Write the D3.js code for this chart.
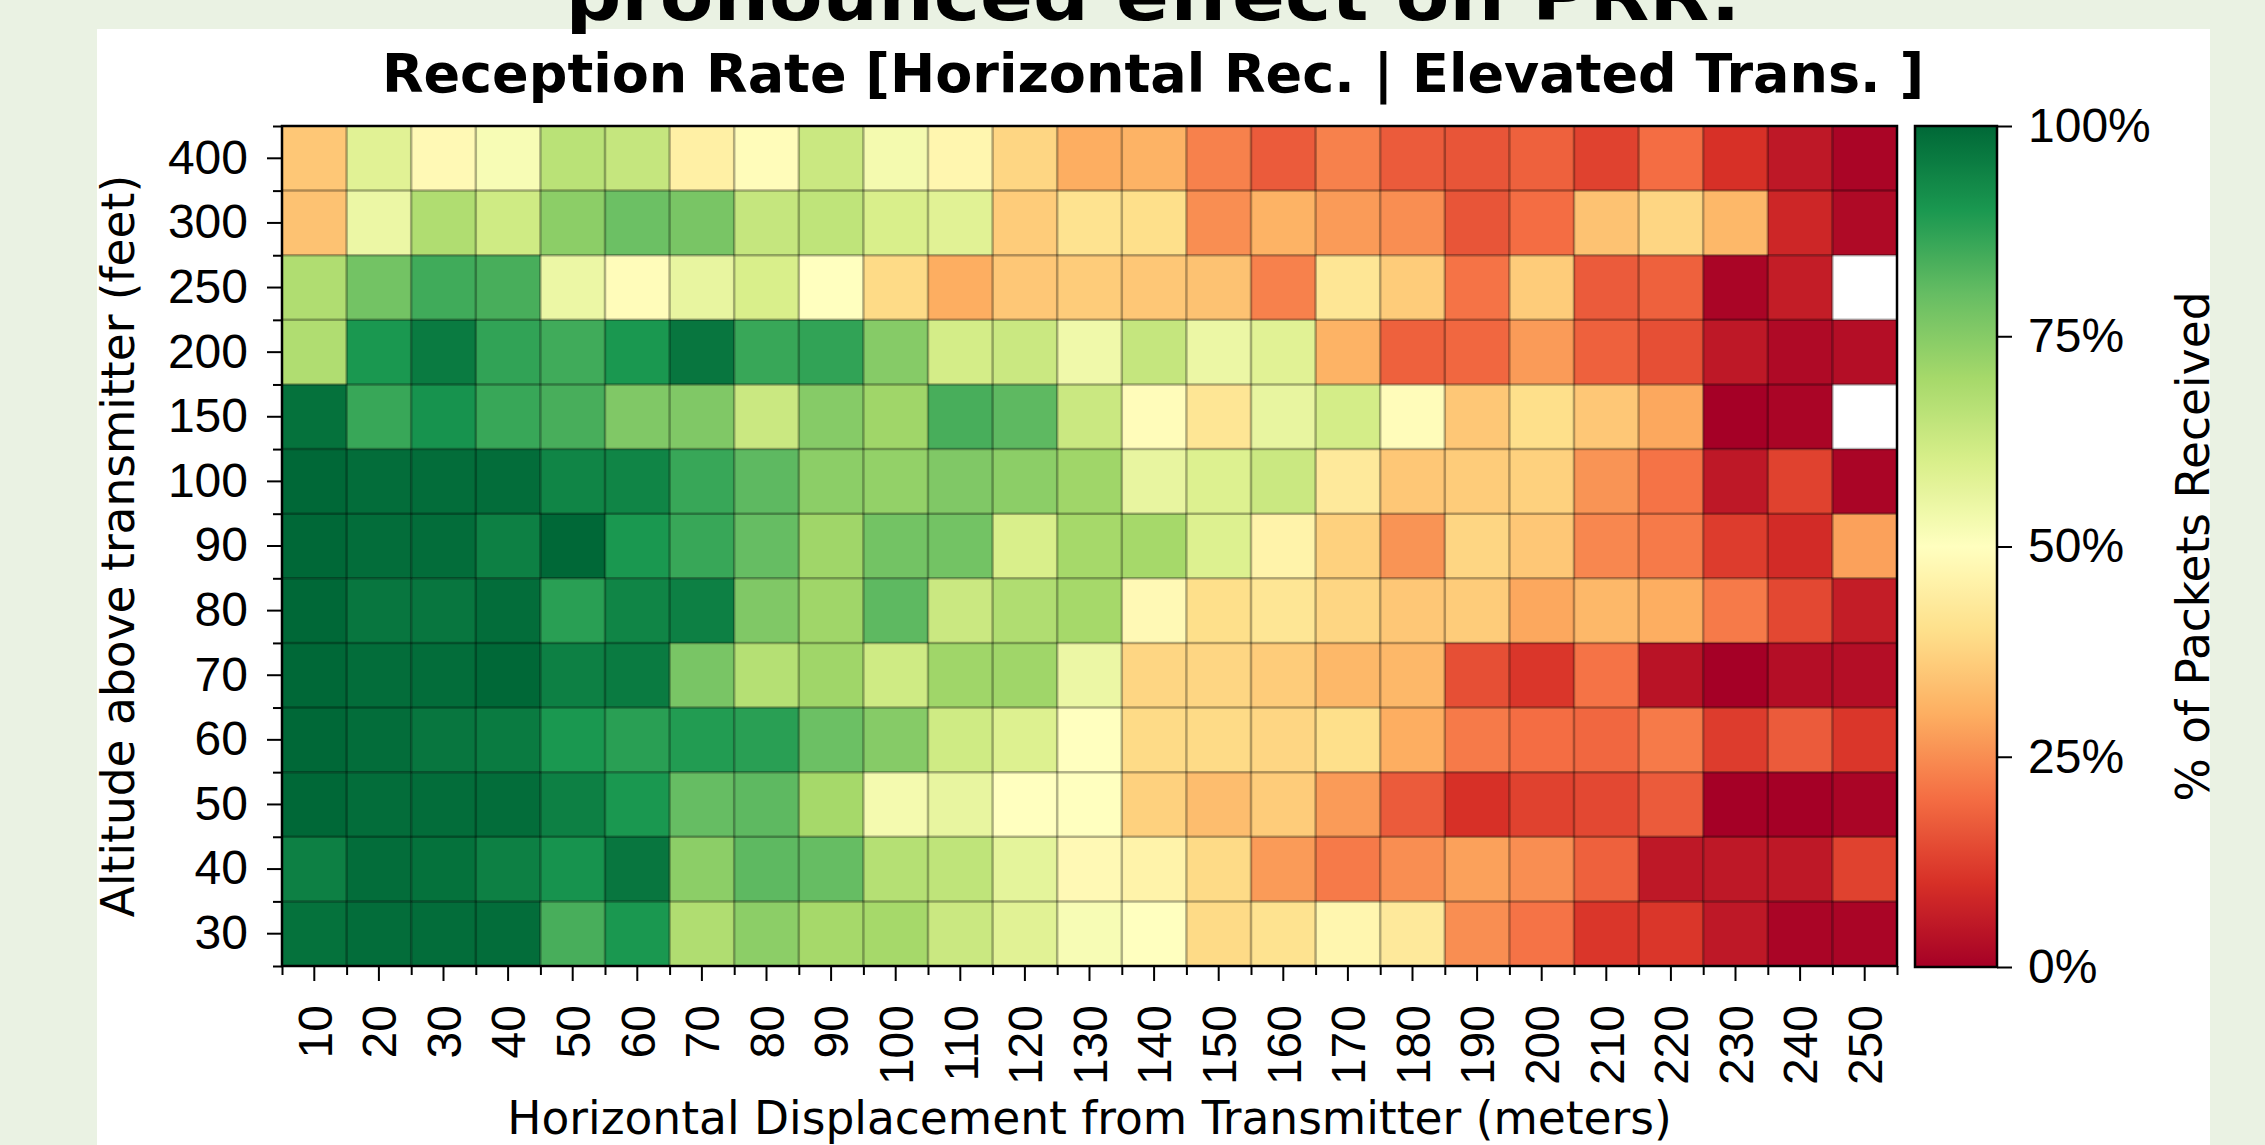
<!DOCTYPE html>
<html>
<head>
<meta charset="utf-8">
<script src="https://cdn.jsdelivr.net/npm/d3@7"></script>
<style>
  html, body { margin: 0; padding: 0; background: #eaf2e3; }
  svg { display: block; font-family: 'DejaVu Sans', sans-serif; }
</style>
</head>
<body>
<div id="chart"></div>
<script>
// columns: horizontal displacement (m), rows: altitude (ft), top row first
const distances = [10, 20, 30, 40, 50, 60, 70, 80, 90, 100, 110, 120, 130,
  140, 150, 160, 170, 180, 190, 200, 210, 220, 230, 240, 250];
const altitudes = ['400', '300', '250', '200', '150', '100', '90', '80', '70', '60', '50', '40', '30'];

// share of packets received per cell (null = no measurement)
const rate400 = [0.35, 0.58, 0.48, 0.52, 0.66, 0.64, 0.45, 0.49, 0.63, 0.53, 0.47, 0.38, 0.30, 0.31, 0.23, 0.17, 0.23, 0.17, 0.16, 0.18, 0.13, 0.20, 0.10, 0.05, 0.01];
const rate300 = [0.34, 0.55, 0.68, 0.62, 0.74, 0.79, 0.77, 0.64, 0.65, 0.60, 0.58, 0.36, 0.41, 0.40, 0.25, 0.31, 0.27, 0.25, 0.16, 0.20, 0.34, 0.38, 0.32, 0.08, 0.02];
const rate250 = [0.68, 0.78, 0.85, 0.84, 0.55, 0.49, 0.56, 0.60, 0.50, 0.39, 0.30, 0.35, 0.36, 0.35, 0.34, 0.23, 0.42, 0.36, 0.21, 0.36, 0.17, 0.18, 0.01, 0.06, null];
const rate200 = [0.68, 0.90, 0.96, 0.87, 0.85, 0.90, 0.97, 0.86, 0.87, 0.75, 0.61, 0.63, 0.54, 0.64, 0.55, 0.58, 0.31, 0.18, 0.19, 0.27, 0.18, 0.15, 0.05, 0.02, 0.03];
const rate150 = [0.98, 0.86, 0.91, 0.86, 0.84, 0.76, 0.76, 0.63, 0.75, 0.71, 0.84, 0.81, 0.63, 0.49, 0.42, 0.56, 0.61, 0.49, 0.35, 0.40, 0.35, 0.29, 0.00, 0.01, null];
const rate100 = [1.00, 0.99, 0.99, 0.99, 0.94, 0.94, 0.86, 0.81, 0.74, 0.73, 0.76, 0.74, 0.71, 0.56, 0.59, 0.63, 0.43, 0.35, 0.36, 0.37, 0.26, 0.21, 0.05, 0.13, 0.01];
const rate90 = [1.00, 0.99, 0.99, 0.95, 1.00, 0.90, 0.86, 0.80, 0.71, 0.78, 0.78, 0.60, 0.70, 0.70, 0.59, 0.46, 0.37, 0.26, 0.38, 0.35, 0.24, 0.22, 0.12, 0.09, 0.28];
const rate80 = [1.00, 0.97, 0.97, 0.99, 0.88, 0.94, 0.95, 0.76, 0.71, 0.81, 0.63, 0.68, 0.70, 0.48, 0.40, 0.42, 0.38, 0.35, 0.36, 0.29, 0.32, 0.30, 0.22, 0.14, 0.06];
const rate70 = [1.00, 0.99, 0.99, 1.00, 0.95, 0.96, 0.77, 0.67, 0.71, 0.62, 0.71, 0.71, 0.55, 0.38, 0.38, 0.36, 0.32, 0.32, 0.15, 0.11, 0.21, 0.04, 0.00, 0.03, 0.03];
const rate60 = [1.00, 0.99, 0.97, 0.96, 0.90, 0.88, 0.89, 0.88, 0.79, 0.75, 0.62, 0.59, 0.50, 0.39, 0.39, 0.38, 0.40, 0.30, 0.22, 0.20, 0.19, 0.22, 0.12, 0.17, 0.11];
const rate50 = [1.00, 0.99, 0.99, 0.99, 0.95, 0.90, 0.80, 0.81, 0.70, 0.53, 0.56, 0.50, 0.50, 0.37, 0.33, 0.36, 0.27, 0.17, 0.10, 0.13, 0.14, 0.17, 0.00, 0.00, 0.01];
const rate40 = [0.95, 0.99, 0.98, 0.95, 0.91, 0.97, 0.74, 0.81, 0.80, 0.67, 0.65, 0.57, 0.48, 0.46, 0.39, 0.27, 0.22, 0.25, 0.28, 0.25, 0.18, 0.05, 0.05, 0.05, 0.13];
const rate30 = [0.98, 0.99, 0.99, 0.99, 0.84, 0.90, 0.68, 0.74, 0.70, 0.70, 0.63, 0.58, 0.52, 0.50, 0.39, 0.41, 0.47, 0.43, 0.25, 0.21, 0.11, 0.11, 0.05, 0.01, 0.01];

const rows = [rate400, rate300, rate250, rate200, rate150, rate100, rate90, rate80, rate70, rate60, rate50, rate40, rate30];
const colorbarTicks = [0, 0.25, 0.5, 0.75, 1];

// matplotlib RdYlGn
const rdylgn = ['#a50026', '#d73027', '#f46d43', '#fdae61', '#fee08b', '#ffffbf',
  '#d9ef8b', '#a6d96a', '#66bd63', '#1a9850', '#006837'];

const cells = [];
altitudes.forEach((alt, i) => {
  distances.forEach((dist, j) => {
    cells.push({ alt, dist, value: rows[i][j] });
  });
});

const W = 2265;
const H = 1145;
const plot = { left: 282, right: 1897, top: 126, bottom: 966 };
const tickFont = 48;
const labelFont = 45.5;

const svg = d3
  .select('#chart')
  .append('svg')
  .attr('width', W)
  .attr('height', H);

// white figure panel on the slide
svg
  .append('rect')
  .attr('x', 97)
  .attr('y', 29)
  .attr('width', 2113)
  .attr('height', H - 29)
  .attr('fill', '#fff');

// slide text, cut by the top edge as in the screenshot
svg
  .append('text')
  .attr('x', 1153)
  .attr('y', 20)
  .attr('text-anchor', 'middle')
  .attr('font-size', 70)
  .attr('font-weight', 'bold')
  .attr('textLength', 1175)
  .attr('lengthAdjust', 'spacingAndGlyphs')
  .text('pronounced effect on PRR.');

const x = d3
  .scaleBand()
  .domain(distances)
  .range([plot.left, plot.right]);
const y = d3
  .scaleBand()
  .domain(altitudes)
  .range([plot.top, plot.bottom]);
const color = d3
  .scaleLinear()
  .domain(d3.range(rdylgn.length).map(i => i / (rdylgn.length - 1)))
  .range(rdylgn)
  .interpolate(d3.interpolateRgb);

// edges of the cells, for minor ticks and grid lines
const xEdge = d3
  .scaleLinear()
  .domain([0, distances.length])
  .range([plot.left, plot.right]);
const yEdge = d3
  .scaleLinear()
  .domain([0, altitudes.length])
  .range([plot.top, plot.bottom]);

svg
  .append('g')
  .selectAll('rect')
  .data(cells)
  .enter()
  .append('rect')
  .attr('x', d => x(d.dist))
  .attr('y', d => y(d.alt))
  .attr('width', x.bandwidth() + 0.5)
  .attr('height', y.bandwidth() + 0.5)
  .attr('fill', d => (d.value === null ? '#fff' : color(d.value)));

const grid = svg
  .append('g')
  .attr('stroke', '#000')
  .attr('stroke-opacity', 0.3)
  .attr('stroke-width', 2.5);
grid
  .selectAll('line.v')
  .data(d3.range(1, distances.length))
  .enter()
  .append('line')
  .attr('class', 'v')
  .attr('x1', d => xEdge(d))
  .attr('x2', d => xEdge(d))
  .attr('y1', plot.top)
  .attr('y2', plot.bottom);
grid
  .selectAll('line.h')
  .data(d3.range(1, altitudes.length))
  .enter()
  .append('line')
  .attr('class', 'h')
  .attr('y1', d => yEdge(d))
  .attr('y2', d => yEdge(d))
  .attr('x1', plot.left)
  .attr('x2', plot.right);

svg
  .append('rect')
  .attr('x', plot.left)
  .attr('y', plot.top)
  .attr('width', plot.right - plot.left)
  .attr('height', plot.bottom - plot.top)
  .attr('fill', 'none')
  .attr('stroke', '#000')
  .attr('stroke-width', 2.5);

function styleAxis(g) {
  g.select('.domain').remove();
  g.selectAll('line').attr('stroke', '#000').attr('stroke-width', 2);
  g.selectAll('text').attr('fill', '#000').attr('font-size', tickFont);
}

// x axis: major ticks at cell centres, minor at edges
const xAxis = svg
  .append('g')
  .attr('transform', `translate(0, ${plot.bottom})`)
  .call(d3.axisBottom(x).tickSize(15).tickSizeOuter(0))
  .call(styleAxis);
xAxis
  .selectAll('text')
  .attr('transform', 'rotate(-90)')
  .attr('text-anchor', 'end')
  .attr('x', -39)
  .attr('y', 0)
  .attr('dy', '0.36em');
svg
  .append('g')
  .attr('transform', `translate(0, ${plot.bottom})`)
  .call(d3.axisBottom(xEdge).tickValues(d3.range(distances.length + 1)).tickSize(9).tickFormat(''))
  .call(styleAxis);

svg
  .append('g')
  .attr('transform', `translate(${plot.left}, 0)`)
  .call(d3.axisLeft(y).tickSize(15).tickPadding(19).tickSizeOuter(0))
  .call(styleAxis);
svg
  .append('g')
  .attr('transform', `translate(${plot.left}, 0)`)
  .call(d3.axisLeft(yEdge).tickValues(d3.range(altitudes.length + 1)).tickSize(9).tickFormat(''))
  .call(styleAxis);

// titles
svg
  .append('text')
  .attr('x', 1153)
  .attr('y', 92)
  .attr('text-anchor', 'middle')
  .attr('font-size', 54)
  .attr('font-weight', 'bold')
  .text('Reception Rate [Horizontal Rec. | Elevated Trans. ]');

svg
  .append('text')
  .attr('x', (plot.left + plot.right) / 2)
  .attr('y', 1134)
  .attr('text-anchor', 'middle')
  .attr('font-size', labelFont)
  .text('Horizontal Displacement from Transmitter (meters)');

svg
  .append('text')
  .attr('transform', `translate(118, ${(plot.top + plot.bottom) / 2}) rotate(-90)`)
  .attr('text-anchor', 'middle')
  .attr('dy', '0.35em')
  .attr('font-size', labelFont)
  .text('Altitude above transmitter (feet)');

// colorbar
const cbar = { left: 1915, right: 1997, top: 126, bottom: 967 };
const cScale = d3
  .scaleLinear()
  .domain([0, 1])
  .range([cbar.bottom, cbar.top]);

const grad = svg
  .append('defs')
  .append('linearGradient')
  .attr('id', 'cbar-grad')
  .attr('x1', 0)
  .attr('y1', 1)
  .attr('x2', 0)
  .attr('y2', 0);
grad
  .selectAll('stop')
  .data(d3.range(0, 1.0001, 0.02))
  .enter()
  .append('stop')
  .attr('offset', d => d)
  .attr('stop-color', d => color(d));

svg
  .append('rect')
  .attr('x', cbar.left)
  .attr('y', cbar.top)
  .attr('width', cbar.right - cbar.left)
  .attr('height', cbar.bottom - cbar.top)
  .attr('fill', 'url(#cbar-grad)')
  .attr('stroke', '#000')
  .attr('stroke-width', 2.5);

svg
  .append('g')
  .attr('transform', `translate(${cbar.right}, 0)`)
  .call(
    d3
      .axisRight(cScale)
      .tickValues(colorbarTicks)
      .tickSize(15)
      .tickPadding(16)
      .tickFormat(d3.format('.0%')),
  )
  .call(styleAxis);

svg
  .append('text')
  .attr('transform', `translate(2193, ${(cbar.top + cbar.bottom) / 2}) rotate(-90)`)
  .attr('text-anchor', 'middle')
  .attr('dy', '0.35em')
  .attr('font-size', labelFont)
  .text('% of Packets Received');
</script>
</body>
</html>
